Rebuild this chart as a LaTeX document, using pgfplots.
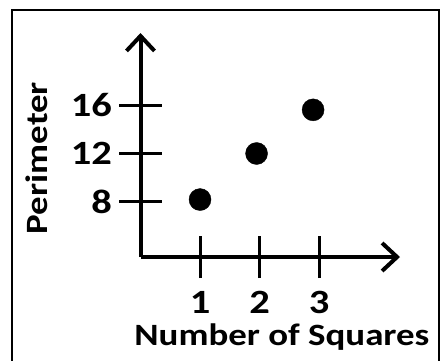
\documentclass[border=0pt]{standalone}
\usepackage{fontspec}
\setmainfont{Carlito}
\newfontfamily\widefont{Carlito}[FakeStretch=1.19]
\usepackage{pgfplots}
\pgfplotsset{compat=1.18}
\usetikzlibrary{arrows.meta}

\begin{document}
\begin{tikzpicture}[x=1pt,y=1pt]
\useasboundingbox (0,0) rectangle (441,360);
% outer frame, cut off at the bottom like the source image
\draw[line width=2pt] (12,-20) -- (12,350) -- (439,350) -- (439,-20);
\begin{axis}[
  at={(140.5pt,103pt)},
  anchor=south west,
  scale only axis,
  width=259.5pt,
  height=224pt,
  xmin=0, xmax=4.36,
  ymin=3.46, ymax=21.94,
  axis lines=left,
  axis line style={line width=4pt,-{Straight Barb[length=15pt,width=28pt,line width=4pt]}},
  xtick={1,2,3},
  ytick={8,12,16},
  tick align=center,
  major tick length=42pt,
  tick style={line width=3pt,black},
  /pgf/number format/assume math mode=true,
  ticklabel style={font=\widefont\bfseries\fontsize{34}{34}\selectfont},
  xticklabel style={yshift=-10pt},
  yticklabel style={xshift=-4pt},
  xlabel={Number of Squares},
  ylabel={Perimeter},
  label style={font=\widefont\bfseries\fontsize{31}{31}\selectfont},
  xlabel style={at={(axis description cs:0.545,-0.393)},anchor=base},
  ylabel style={at={(axis description cs:-0.4,0.442)},anchor=center},
  clip=false,
]
\addplot[only marks, mark=*, mark size=11pt, black] coordinates {(1,8.2) (1.95,12) (2.9,15.6)};
\end{axis}
\end{tikzpicture}
\end{document}
